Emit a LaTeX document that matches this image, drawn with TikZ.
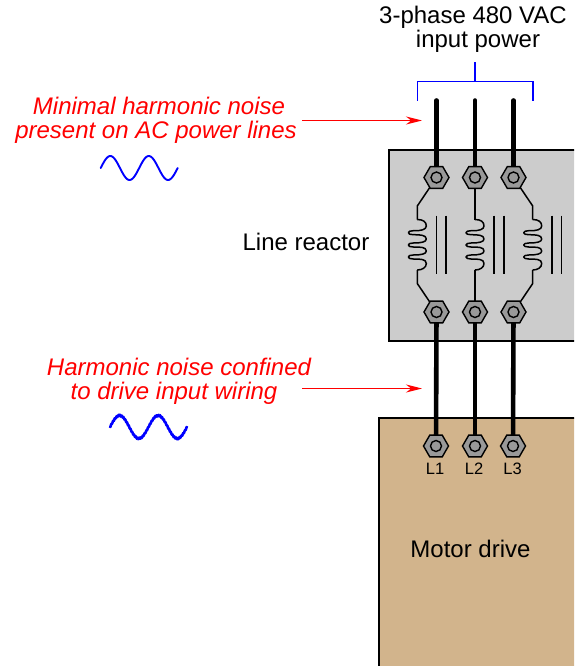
\documentclass[tikz,border=0pt]{standalone}
\usepackage{fontspec}
\setmainfont{Liberation Sans}
\usetikzlibrary{shapes.geometric,arrows.meta}
\definecolor{reactorgray}{HTML}{CCCCCC}
\definecolor{drivetan}{HTML}{D2B48C}
\definecolor{nutgray}{HTML}{999999}
\tikzset{
  x=1pt,y=-1pt,
  cabinet/.style={draw=black,line width=1.2pt},
  power/.style={line width=4.6pt,line cap=round,black},
  nut/.style={regular polygon,regular polygon sides=6,minimum size=25pt,inner sep=0pt,draw=black,line width=1.4pt,fill=nutgray},
  nuthole/.style={circle,minimum size=11pt,inner sep=0pt,draw=black,line width=1.4pt,fill=nutgray},
  thin wire/.style={line width=1.5pt,black,line join=round},
  core/.style={line width=1.4pt,black},
  note/.style={red,font=\fontsize{24}{25}\selectfont\itshape,align=center,inner sep=0pt},
  label/.style={black,font=\fontsize{24}{25}\selectfont,align=center,inner sep=0pt},
  small label/.style={black,font=\fontsize{16.5}{18}\selectfont,inner sep=0pt},
  pointer/.style={red,line width=1.4pt,-{Stealth[length=16pt,width=8pt]}},
  bracket/.style={blue,line width=1.6pt},
}
\newcommand{\coilpath}[1]{%
  \begin{scope}[xshift=#1pt]
  \draw[thin wire] (0,219.5)
    .. controls (6,219.5) and (9,222) .. (9,226)
    .. controls (9,229.5) and (4,231) .. (-4,230.7)
    .. controls (-7,230.7) and (-9,231.5) .. (-9,232.7)
    .. controls (-9,234) and (-7,234.7) .. (-4,234.7)
    .. controls (3,234.7) and (9,235) .. (9,239)
    .. controls (9,242) and (4,243) .. (-4,243)
    .. controls (-7,243) and (-9,243.8) .. (-9,245)
    .. controls (-9,246.2) and (-7,247) .. (-4,247)
    .. controls (3,247) and (9,247) .. (9,251)
    .. controls (9,254) and (4,255) .. (-4,255)
    .. controls (-7,255) and (-9,255.8) .. (-9,257)
    .. controls (-9,258.2) and (-7,259) .. (-4,259)
    .. controls (3,259) and (9,259) .. (9,263.5)
    .. controls (9,267.5) and (5,270) .. (0,270);
  \end{scope}}
\begin{document}
\begin{tikzpicture}
\clip (0,0) rectangle (574,666);
\fill[white] (0,0) rectangle (574,666);
% enclosures
\draw[cabinet,fill=reactorgray] (389,150) rectangle (580,341);
\draw[cabinet,fill=drivetan] (379,418) rectangle (580,672);
% terminal anchors
\coordinate (t1) at (436.5,177.5);
\coordinate (t2) at (475,177.5);
\coordinate (t3) at (513.5,177.5);
\coordinate (b1) at (436.5,312);
\coordinate (b2) at (475,312);
\coordinate (b3) at (513.5,312);
\coordinate (d1) at (436,446);
\coordinate (d2) at (475,446);
\coordinate (d3) at (513,446);
\coordinate (in1) at (436.5,100.5);
\coordinate (in2) at (475,100.5);
\coordinate (in3) at (513.5,100.5);
% power wires
\foreach \n in {1,2,3}{
  \draw[power] (in\n) -- (t\n);
  \draw[power] (b\n) -- (d\n);
}
% reactor windings
\coilpath{417.3}
\coilpath{475}
\coilpath{532.7}
\draw[thin wire] (t1) -- (417.3,206) -- (417.3,219.5);
\draw[thin wire] (b1) -- (417.3,283.5) -- (417.3,270);
\draw[thin wire] (t2) -- (475,219.5);
\draw[thin wire] (b2) -- (475,270);
\draw[thin wire] (t3) -- (532.7,206) -- (532.7,219.5);
\draw[thin wire] (b3) -- (532.7,283.5) -- (532.7,270);
% iron cores
\foreach \cx in {436.7,446,494,504,552,561.5}{
  \draw[core] (\cx,215.7) -- (\cx,274);
}
% terminals
\foreach \p in {t1,t2,t3,b1,b2,b3,d1,d2,d3}{
  \node[nut] (nut\p) at (\p) {};
  \node[nuthole] (hole\p) at (\p) {};
}
% bracket
\coordinate (brtop) at (475,62.3);
\coordinate (brmid) at (475,81.7);
\coordinate (brl) at (417.3,101);
\coordinate (brr) at (532.7,101);
\draw[bracket] (brtop) -- (brmid);
\draw[bracket] (brl) |- (brmid) -| (brr);
% labels
\node[label] (title) at (473,29.5) {3-phase 480 VAC\\[-0.5pt]\kern10pt input power};
\node[label] (reactor) at (306,242) {Line reactor};
\node[label] (drive) at (470.5,549) {Motor drive};
\node[small label] (l1) at (435,469) {L1};
\node[small label] (l2) at (474,469) {L2};
\node[small label] (l3) at (512.5,469) {L3};
\node[note] (n1) at (156,120.5) {\kern6pt Minimal harmonic noise\\[-1pt]present on AC power lines};
\node[note] (n2) at (179,381) {Harmonic noise confined\\[-1pt]to drive input wiring\kern10pt};
% arrows
\coordinate (a1s) at (302,120.5);
\coordinate (a1e) at (422,120.5);
\coordinate (a2s) at (302,388.5);
\coordinate (a2e) at (422,388.5);
\draw[pointer] (a1s) -- (a1e);
\draw[pointer] (a2s) -- (a2e);
% waveforms
\draw[blue,line width=1.9pt,line cap=round] plot[smooth,domain=0:720,samples=80,variable=\t]
  ({100.7+0.10694*\t},{168-12*sin(\t)});
\draw[blue,line width=2.6pt,line cap=round] plot[domain=0:720,samples=240,variable=\t]
  ({110+0.10694*\t},{427-11.5*sin(\t)+0.5*sin(22*\t)});
\end{tikzpicture}
\end{document}
